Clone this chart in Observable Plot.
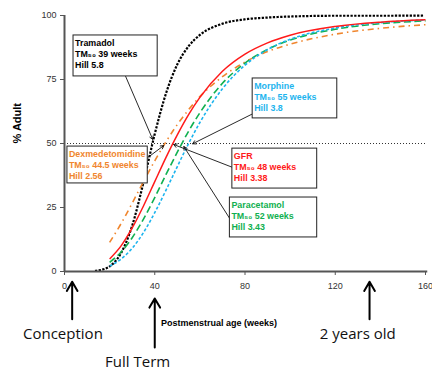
<!DOCTYPE html>
<html>
<head>
<meta charset="utf-8">
<script src="https://cdn.jsdelivr.net/npm/d3@7"></script>
<script src="https://cdn.jsdelivr.net/npm/@observablehq/plot@0.6"></script>
<style>
  html, body { margin: 0; padding: 0; background: #fff; }
</style>
</head>
<body>
<div id="chart"></div>
<script>
// ---- data ----
const weeks = [20, 25, 30, 35, 40, 45, 50, 55, 60, 70, 80, 90, 100, 120, 140, 160];
const gfr = [4.9, 9.9, 17.0, 25.6, 35.1, 44.6, 53.4, 61.3, 68.0, 78.2, 84.9, 89.3, 92.3, 95.7, 97.4, 98.3];
const paracetamol = [3.6, 7.5, 13.2, 20.5, 28.9, 37.9, 46.6, 54.8, 62.0, 73.5, 81.4, 86.8, 90.4, 94.6, 96.8, 97.9];
const morphine = [2.1, 4.8, 9.1, 15.2, 23.0, 31.8, 41.0, 50.0, 58.2, 71.4, 80.6, 86.7, 90.7, 95.1, 97.2, 98.3];
const dexmedetomidine = [11.4, 18.6, 26.7, 35.1, 43.2, 50.7, 57.4, 63.2, 68.3, 76.1, 81.8, 85.9, 88.8, 92.7, 95.0, 96.4];
const tramadolWeeks = [14, 17, 20, 25, 30, 35, 40, 45, 50, 55, 60, 70, 80, 90, 100, 120, 140, 160];
const tramadol = [0.3, 0.8, 2.0, 7.1, 17.9, 34.8, 53.7, 69.6, 80.9, 88.0, 92.4, 96.8, 98.5, 99.2, 99.6, 99.9, 99.9, 100.0];

const drugNames = ["Tramadol", "Dexmedetomidine", "Morphine", "GFR", "Paracetamol"];
const tm50 = ["39", "44.5", "55", "48", "52"];
const hill = ["5.8", "2.56", "3.8", "3.38", "3.43"];
const xTicks = [0, 40, 80, 120, 160];
const yTicks = [0, 25, 50, 75, 100];
const milestones = ["Conception", "Full Term", "2 years old"];
const milestoneWeeks = [3.4, 40, 135.2];

// ---- styles / layout ----
const colors = {Tramadol: "#000000", Dexmedetomidine: "#F0862E", Morphine: "#1DB4EE", GFR: "#FF1A1A", Paracetamol: "#10B050"};
const boxes = [
  {x1: 4.0, x2: 41.3, y1: 76.2, y2: 92.2},
  {x1: 1.3, x2: 36.9, y1: 34.4, y2: 48.8},
  {x1: 83.4, x2: 120.9, y1: 59.8, y2: 75.4},
  {x1: 74.4, x2: 112.0, y1: 32.4, y2: 48.0},
  {x1: 73.3, x2: 112.0, y1: 13.3, y2: 28.9}
];
const pointers = [
  {x1: 27.1, y1: 76.2, x2: 39.1, y2: 51.6},
  {x1: 36.9, y1: 44.5, x2: 44.0, y2: 49.2},
  {x1: 83.4, y1: 61.6, x2: 56.8, y2: 49.9},
  {x1: 74.4, y1: 40.7, x2: 48.4, y2: 49.6},
  {x1: 73.3, y1: 20.6, x2: 52.9, y2: 48.8}
];
const milestoneArrowY = [[-18.7, -4.0], [-29.7, -10.5], [-18.7, -4.0]];
const milestoneLabelPos = [{x: -0.7, y: -24.6}, {x: 32.4, y: -35.6}, {x: 130, y: -24.6}];

const series = (name, xs, ys) => xs.map((w, i) => ({name, week: w, value: ys[i]}));
const curves = [
  {name: "Tramadol", data: series("Tramadol", tramadolWeeks, tramadol), dash: "0.1,3.6", width: 2.2, cap: "square"},
  {name: "Dexmedetomidine", data: series("Dexmedetomidine", weeks, dexmedetomidine), dash: "6,4,1.5,4", width: 1.6, cap: "butt"},
  {name: "Paracetamol", data: series("Paracetamol", weeks, paracetamol), dash: "7,3.5", width: 1.6, cap: "butt"},
  {name: "Morphine", data: series("Morphine", weeks, morphine), dash: "3,2", width: 1.6, cap: "butt"},
  {name: "GFR", data: series("GFR", weeks, gfr), dash: null, width: 1.5, cap: "butt"}
];

const boxData = drugNames.map((n, i) => ({
  name: n, ...boxes[i],
  l1: n, l2: "TM\u2085\u2080 " + tm50[i] + " weeks", l3: "Hill " + hill[i]
}));
const milestoneData = milestones.map((m, i) => ({
  label: m, x: milestoneWeeks[i], ya: milestoneArrowY[i][0], yb: milestoneArrowY[i][1],
  lx: milestoneLabelPos[i].x, ly: milestoneLabelPos[i].y
}));

const boxText = (key, dy) => Plot.text(boxData, {
  x: "x1", y: "y2", text: key, dx: 1.5, dy,
  textAnchor: "start", lineAnchor: "middle",
  fill: d => colors[d.name], fontWeight: "bold", fontSize: 8.9
});

const chart = Plot.plot({
  width: 432,
  height: 371,
  marginLeft: 64,
  marginRight: 7,
  marginTop: 15,
  marginBottom: 100,
  style: {fontFamily: "'Liberation Sans', Arial, sans-serif", background: "#fff", overflow: "visible"},
  x: {domain: [0, 160]},
  y: {domain: [0, 100]},
  marks: [
    Plot.ruleY([50], {stroke: "#333", strokeWidth: 1, strokeDasharray: "1,2"}),
    ...curves.map(c => Plot.line(c.data, {
      x: "week", y: "value", stroke: colors[c.name], strokeWidth: c.width,
      strokeDasharray: c.dash, strokeLinecap: c.cap, curve: "monotone-x"
    })),
    Plot.arrow(pointers, {x1: "x1", y1: "y1", x2: "x2", y2: "y2", stroke: "#111", strokeWidth: 0.9, headLength: 6}),
    Plot.rect(boxData, {x1: "x1", x2: "x2", y1: "y1", y2: "y2", fill: "#fff", stroke: "#222", strokeWidth: 1}),
    boxText("l1", 8),
    boxText("l2", 19),
    boxText("l3", 30),
    Plot.axisY({ticks: yTicks, tickSize: 4, tickPadding: 4, fontSize: 9, color: "#333", label: null, stroke: "#555"}),
    Plot.axisX({ticks: xTicks, tickSize: 4, tickPadding: 7, fontSize: 9, color: "#333", label: null, stroke: "#555"}),
    Plot.ruleX([0], {y1: 0, y2: 100, stroke: "#555", strokeWidth: 2}),
    Plot.ruleY([0], {x1: 0, x2: 161, stroke: "#555", strokeWidth: 2}),
    Plot.text(["% Adult"], {frameAnchor: "left", rotate: -90, dx: -47, fontWeight: "bold", fontSize: 11, fill: "#000"}),
    Plot.text(["Postmenstrual age (weeks)"], {x: 68.5, y: -20.3, fontWeight: "bold", fontSize: 9, fill: "#000"}),
    Plot.arrow(milestoneData, {x1: "x", x2: "x", y1: "ya", y2: "yb", stroke: "#000", strokeWidth: 2, headLength: 8}),
    Plot.text(milestoneData, {x: "lx", y: "ly", text: "label", fontFamily: "'Open Sans', sans-serif", fontSize: 15, fill: "#111"})
  ]
});
document.getElementById("chart").appendChild(chart);
</script>
</body>
</html>
